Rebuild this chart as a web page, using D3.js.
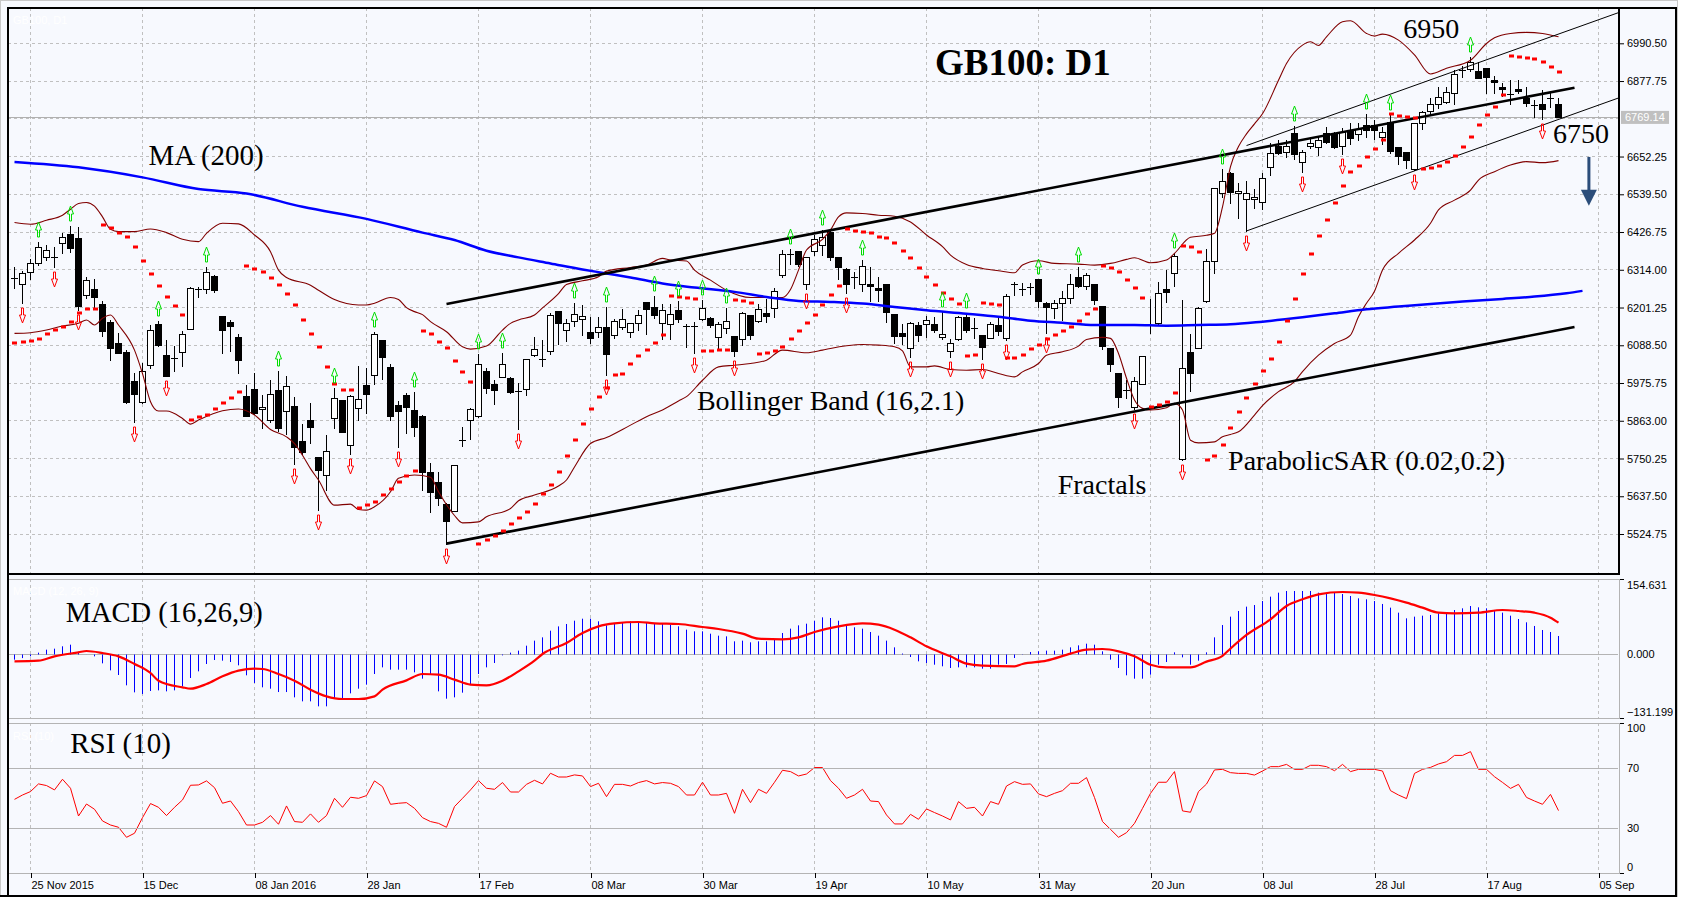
<!DOCTYPE html>
<html><head><meta charset="utf-8">
<script src="https://cdn.jsdelivr.net/npm/d3@7"></script>
<style>
html,body{margin:0;padding:0;background:#fff;}
svg{display:block;}
</style></head><body>
<svg id="c" width="1704" height="897"></svg>
<script>
// ---------------- DATA ----------------
const dateLabels = ["25 Nov 2015","15 Dec","08 Jan 2016","28 Jan","17 Feb","08 Mar","30 Mar","19 Apr","10 May","31 May","20 Jun","08 Jul","28 Jul","17 Aug","05 Sep"];
const dateTickBars = [0,14,28,42,56,70,84,98,112,126,140,154,168,182,196];
const priceLabels = [6990.50,6877.75,6652.25,6539.50,6426.75,6314.00,6201.25,6088.50,5975.75,5863.00,5750.25,5637.50,5524.75];
const priceGrid = [6990.50,6877.75,6765.00,6652.25,6539.50,6426.75,6314.00,6201.25,6088.50,5975.75,5863.00,5750.25,5637.50,5524.75];
const macdTicks = [154.631,0,-131.199];
const rsiTicks = [100,70,30,0];
const lastPrice = 6769.14;
const firstBar = -2;
// open, high, low, close  (bar index firstBar .. 191)
const ohlc = [
[6285,6323,6261,6288],[6273,6311,6215,6303],[6308,6345,6285,6333],[6333,6397,6327,6381],[6353,6387,6343,6372],
[6353,6383,6323,6351],[6393,6423,6363,6413],[6421,6445,6368,6380],[6408,6441,6194,6206],[6238,6291,6231,6283],
[6256,6286,6199,6233],[6211,6220,6116,6132],[6157,6164,6044,6081],[6094,6124,6064,6066],[6069,6074,5915,5920],
[5981,6007,5860,5942],[5918,6035,5917,6013],[6031,6149,6021,6133],[6152,6161,6087,6089],[6059,6104,5996,5997],
[6051,6087,6012,6049],[6067,6131,6027,6121],[6136,6263,6136,6261],[6257,6263,6233,6258],[6258,6321,6245,6306],
[6295,6298,6248,6255],[6175,6176,6064,6135],[6157,6164,6072,6147],[6112,6121,6006,6045],[5936,5971,5877,5878],
[5959,6007,5882,5885],[5897,5940,5840,5903],[5865,5984,5860,5942],[5954,6011,5833,5842],[5891,5998,5824,5968],
[5906,5933,5735,5785],[5802,5852,5763,5770],[5865,5916,5797,5845],[5754,5755,5596,5716],[5700,5820,5656,5774],
[5870,5962,5842,5930],[5925,5925,5830,5830],[5792,5939,5765,5936],[5900,6026,5865,5927],[5969,6021,5885,5944],
[6001,6129,5974,6121],[6104,6105,5989,6054],[6023,6032,5865,5878],[5910,5923,5785,5893],[5940,5945,5827,5905],
[5895,5950,5818,5843],[5878,5880,5656,5711],[5709,5737,5591,5651],[5679,5710,5611,5633],[5614,5618,5496,5564],
[5594,5732,5594,5732],[5804,5843,5788,5806],[5865,5900,5810,5898],[5877,6062,5875,6034],[6013,6022,5945,5962],
[5972,5984,5912,5954],[5994,6064,5994,6034],[5992,5994,5947,5950],[5949,5976,5839,5951],[5957,6048,5939,6046],
[6059,6112,6057,6076],[6045,6104,6027,6047],[6072,6184,6062,6179],[6191,6192,6092,6154],[6134,6166,6102,6154],
[6160,6216,6147,6181],[6167,6210,6119,6175],[6127,6172,6096,6111],[6127,6172,6114,6144],[6143,6204,6001,6061],
[6118,6166,6109,6162],[6143,6196,6137,6166],[6129,6156,6112,6154],[6156,6193,6134,6180],[6217,6217,6122,6196],
[6203,6236,6169,6180],[6156,6212,6106,6193],[6152,6212,6106,6182],[6194,6222,6159,6168],[6145,6152,6084,6147],
[6147,6159,6066,6145],[6166,6223,6164,6199],[6170,6174,6144,6149],[6112,6159,6076,6151],[6139,6199,6126,6160],
[6116,6116,6057,6072],[6106,6189,6089,6184],[6178,6179,6106,6118],[6161,6213,6159,6196],[6185,6226,6159,6175],
[6200,6261,6172,6252],[6297,6373,6291,6360],[6359,6376,6330,6361],[6370,6370,6325,6332],[6273,6351,6258,6351],
[6370,6418,6358,6405],[6388,6433,6358,6411],[6428,6430,6343,6353],[6353,6353,6285,6321],[6316,6318,6245,6273],
[6291,6308,6261,6293],[6273,6343,6251,6325],[6271,6321,6221,6265],[6261,6293,6221,6255],[6271,6271,6157,6187],
[6182,6182,6094,6116],[6124,6152,6092,6116],[6079,6159,6052,6156],[6148,6157,6102,6118],[6152,6177,6112,6163],
[6152,6172,6127,6134],[6112,6187,6107,6121],[6072,6107,6054,6094],[6106,6176,6104,6172],[6172,6186,6127,6134],
[6138,6169,6109,6140],[6118,6118,6046,6082],[6111,6157,6111,6151],[6148,6169,6119,6132],[6111,6241,6104,6237],
[6269,6278,6238,6271],[6256,6275,6240,6258],[6260,6275,6243,6262],[6286,6286,6203,6222],[6215,6218,6124,6203],
[6200,6223,6169,6216],[6216,6250,6164,6231],[6231,6301,6215,6271],[6291,6323,6263,6266],[6266,6303,6258,6298],
[6272,6273,6213,6224],[6206,6206,6076,6087],[6081,6081,6012,6034],[6007,6007,5905,5933],[5952,5984,5932,5954],
[5905,5994,5898,5982],[5973,6056,5972,6056],[6148,6227,6124,6150],[6156,6278,6149,6246],[6258,6313,6218,6248],
[6305,6363,6266,6355],[5750,6223,5747,6022],[6067,6121,5951,6006],[6079,6202,6079,6199],[6221,6376,6218,6341],
[6341,6559,6305,6559],[6542,6614,6532,6580],[6604,6607,6512,6547],[6542,6574,6470,6549],[6524,6579,6430,6544],
[6524,6554,6500,6530],[6517,6604,6497,6587],[6620,6692,6597,6662],[6685,6702,6660,6664],[6667,6702,6652,6685],
[6722,6742,6645,6660],[6635,6672,6607,6665],[6684,6712,6677,6694],[6680,6712,6657,6701],[6722,6739,6692,6697],
[6724,6727,6677,6680],[6685,6737,6660,6725],[6730,6753,6690,6707],[6720,6753,6702,6735],[6745,6778,6712,6732],
[6747,6761,6704,6732],[6710,6740,6690,6725],[6754,6776,6664,6670],[6680,6682,6629,6655],[6667,6667,6617,6642],
[6615,6752,6612,6752],[6752,6788,6734,6786],[6789,6826,6776,6809],[6808,6859,6796,6831],[6816,6859,6811,6844],
[6843,6911,6809,6899],[6910,6924,6891,6912],[6913,6949,6909,6936],[6908,6936,6886,6888],[6916,6916,6843,6891],
[6881,6893,6843,6876],[6859,6871,6834,6853],[6839,6881,6808,6838],[6854,6881,6841,6849],[6826,6861,6804,6813],
[6805,6821,6771,6804],[6808,6851,6764,6793],[6828,6841,6801,6823],[6808,6826,6769,6769.14]
];
const sar = [
6094,6097,6102,6108,6121,6133,6142,6159,6184,6196,
6196,6447,6440,6425,6411,6381,6340,6300,6267,6234,
6205,6178,5864,5873,5879,5897,5915,5930,5948,6324,
6315,6306,6288,6270,6243,6210,6163,6121,6082,6025,
5974,5954,5954,5601,5610,5619,5640,5658,5679,5697,
5712,6130,6121,6099,6079,6042,6009,5980,5496,5508,
5520,5533,5554,5574,5591,5613,5643,5670,5710,5759,
5805,5852,5897,5935,5962,6001,6004,6032,6055,6073,
6094,6118,6237,6233,6231,6226,6070,6070,6074,6074,
6223,6221,6216,6062,6064,6070,6082,6106,6132,6156,
6178,6208,6238,6267,6435,6431,6426,6423,6413,6408,
6393,6371,6348,6318,6291,6268,6245,6226,6211,6056,
6058,6216,6213,6210,6051,6051,6060,6076,6088,6106,
6118,6132,6144,6160,6181,6198,6325,6318,6306,6282,
6260,6231,5903,5910,5920,5945,6385,6383,6368,5746,
5758,5790,5840,5888,5930,5972,6012,6046,6097,6161,
6226,6301,6361,6415,6463,6512,6565,6607,6625,6652,
6675,6702,6780,6774,6771,6768,6614,6617,6624,6635,
6654,6680,6711,6746,6776,6801,6836,6953,6950,6947,
6943,6934,6920,6906];
const fractalUp = [1,5,16,22,31,38,43,48,56,59,68,72,78,81,84,87,95,99,104,114,117,126,131,143,149,158,167,170,180];
const fractalDown = [-1,3,6,13,17,33,36,40,46,52,61,72,83,88,97,102,110,115,119,122,127,138,144,152,159,164,173,189];
const bbUpper = [[-2,6455],[0,6450],[2,6462],[4,6477],[5,6495],[6,6512],[7,6515],[8,6504],[9,6472],[10,6435],[11,6428],[13,6428],[15,6436],[17,6425],[19,6405],[21,6398],[22,6423],[24,6453],[26,6451],[28,6418],[30,6368],[31,6313],[32,6291],[35,6268],[36,6253],[38,6225],[41,6209],[42,6209],[43,6214],[45,6231],[46,6225],[47,6201],[48,6189],[49,6180],[50,6159],[52,6129],[54,6084],[55,6077],[57,6086],[59,6134],[60,6154],[61,6164],[63,6179],[64,6200],[66,6243],[67,6270],[69,6281],[71,6293],[72,6310],[75,6321],[77,6328],[79,6348],[80,6343],[82,6340],[83,6313],[85,6283],[87,6253],[90,6231],[92,6231],[94,6231],[95,6255],[96,6313],[97,6373],[99,6405],[100,6433],[101,6472],[102,6484],[104,6482],[106,6477],[108,6474],[110,6457],[112,6418],[114,6383],[115,6358],[117,6330],[119,6318],[121,6311],[123,6305],[124,6328],[126,6341],[128,6333],[131,6331],[133,6328],[135,6333],[137,6345],[138,6350],[140,6335],[142,6343],[143,6363],[145,6411],[147,6417],[148,6423],[149,6502],[150,6622],[151,6682],[152,6720],[153,6750],[154,6780],[156,6880],[157,6930],[159,6985],[160,6995],[161,6984],[162,7010],[164,7055],[165,7058],[167,7020],[168,7012],[169,7018],[171,7000],[173,6956],[175,6899],[177,6916],[180,6940],[182,6990],[183,7007],[185,7020],[187,7023],[189,7020],[191,7010]];
const bbLower = [[-2,6124],[0,6126],[2,6134],[4,6146],[6,6154],[7,6164],[8,6149],[9,6169],[10,6179],[11,6149],[13,6074],[14,6004],[15,5920],[16,5892],[17,5892],[19,5870],[20,5853],[21,5865],[24,5893],[26,5898],[28,5880],[30,5837],[32,5815],[33,5795],[34,5760],[35,5720],[36,5686],[38,5611],[40,5614],[41,5598],[42,5596],[43,5606],[45,5651],[46,5691],[48,5701],[50,5694],[51,5651],[53,5580],[54,5558],[56,5561],[57,5576],[60,5601],[61,5624],[63,5641],[66,5668],[67,5686],[68,5725],[70,5795],[72,5813],[75,5850],[77,5875],[79,5895],[81,5922],[82,5935],[84,5984],[86,6024],[88,6029],[90,6034],[92,6044],[94,6074],[97,6066],[99,6074],[100,6079],[102,6087],[104,6091],[106,6089],[108,6084],[109,6072],[110,6024],[112,6024],[113,6027],[115,6016],[117,6014],[119,6016],[121,6004],[123,5994],[124,6009],[126,6034],[127,6059],[129,6069],[131,6086],[132,6106],[134,6112],[135,6109],[136,6064],[137,5990],[138,5925],[139,5900],[140,5895],[142,5902],[143,5915],[144,5895],[145,5805],[146,5797],[148,5800],[149,5815],[150,5822],[151,5830],[153,5880],[154,5908],[156,5950],[158,5980],[159,6010],[161,6059],[163,6094],[165,6119],[166,6174],[167,6214],[168,6250],[169,6313],[171,6363],[173,6403],[175,6453],[176,6493],[178,6522],[180,6552],[181,6582],[183,6607],[185,6627],[187,6637],[189,6634],[191,6640]];
const ma200 = [[-2,6636],[6,6620],[14,6590],[21,6555],[27,6542],[34,6502],[42,6466],[49,6425],[53,6403],[57,6371],[61,6351],[65,6333],[69,6315],[72,6303],[75,6291],[79,6273],[83,6261],[88,6248],[92,6233],[96,6221],[100,6218],[104,6213],[108,6203],[112,6193],[117,6183],[121,6174],[125,6162],[129,6156],[133,6149],[138,6149],[142,6147],[146,6149],[150,6151],[154,6159],[159,6172],[163,6184],[167,6196],[171,6204],[175,6212],[179,6219],[184,6227],[188,6234],[192,6244],[194,6251]];
const macdHist = [
-12.5,-9,-5,3,9.6,11.8,17,20.6,5,-1,
-5.2,-20.6,-36.1,-46.4,-69.2,-84.7,-88.4,-81.7,-80.3,-82.5,
-80.3,-71.4,-53,-38.3,-22.1,-13.3,-14.7,-17.7,-25,-47.1,
-64,-73.6,-76.6,-84,-84,-95.7,-104.6,-104.6,-115.6,-115.6,
-98.7,-98.7,-86.9,-76.6,-67.7,-44.2,-29.5,-34.6,-34.6,-34.6,
-40.5,-54.5,-45.6,-82.5,-98.7,-95.7,-85.4,-67.7,-44.2,-29.5,
-19.9,-3,3,7.4,18.4,29.5,36.8,51.5,61,66.3,
73.6,78,78,72.2,63.3,66.3,68.5,72.2,68.5,68.5,
66.3,66.3,64.8,61.1,53.8,50.1,50.1,44.9,40.5,39,
28,29.5,25.8,28,28,31.7,46.4,56,63.3,67,
73.6,81,79.5,73.6,64.8,59,56,48.6,40.5,29.5,
14.7,1,-6.6,-16.2,-19.9,-23.6,-27.2,-30.9,-29.5,-29.5,
-29.5,-32.4,-32.4,-23.6,-22.1,-8.8,-0.5,4.4,5.9,7.4,
7.4,9.6,14.7,19.1,22.8,20.6,5.9,-12.5,-30.9,-47.1,
-54.5,-54.5,-45.6,-23.6,-17.7,3.7,-7.4,-23.6,-14.7,3.7,
36.8,64,82.5,95,104.6,108.2,117,126.7,135.5,139.2,
139.2,139.2,139.2,135.5,132.5,135.5,132.5,128.1,123,120.8,
117,110.5,102.4,91.3,78.8,82.5,84.7,86.2,89.8,89.8,
97.2,100.9,106,103.1,100.9,95.7,91.3,84.7,77.3,70,
61.9,53,48.6,39.8];
const macdSignal = [[-2,-16.2],[1,-14.7],[3,-5.2],[6,3.7],[7,6.6],[9,2.2],[11,-5.2],[13,-22],[15,-42],[16,-59],[19,-73.6],[20,-76.6],[22,-66.3],[24,-49.3],[26,-36.8],[28,-32.4],[29,-33.1],[31,-44.2],[33,-58.9],[35,-78.8],[37,-93.5],[39,-99.4],[41,-99.4],[43,-93.5],[44,-78.8],[47,-58.2],[49,-44.2],[51,-45.6],[53,-56.7],[55,-67.7],[57,-69.2],[59,-58.9],[61,-38.3],[63,-14.7],[64,0],[67,24.3],[69,46.4],[71,61.1],[73,67.7],[76,70.7],[78,67.7],[81,66.3],[84,59.6],[86,55.2],[89,44.9],[91,33.9],[94,32.4],[96,36.8],[98,48.6],[101,61.1],[104,67.7],[106,64.8],[108,53.8],[110,36.8],[112,16.9],[115,-5.2],[117,-21.4],[119,-25.8],[123,-27.2],[124,-22.1],[127,-14.7],[130,0.7],[132,9.6],[134,11],[136,5.9],[138,-5.2],[140,-23.6],[142,-29.5],[145,-29.5],[147,-16.9],[149,-4],[150,12],[152,42],[155,76.6],[157,106],[159,120.8],[161,131.8],[164,137],[166,135.5],[168,130.3],[170,122.9],[172,113.4],[174,102.4],[176,91.3],[178,89.8],[181,91.3],[184,97.2],[186,95],[188,91.3],[190,80.3],[191,69.2]];
const rsi = [
49.3,52.2,54.5,59.6,58.5,55.6,62.7,56.7,38.2,46.2,
42.7,34.9,32.2,30.7,24,26.7,37.1,46.5,44,38.5,
44,48.9,58.7,58.9,61.6,57.1,46.7,48.2,41.1,32.2,
32.2,34,38.5,32.7,44.9,34.5,34,39.6,34,38.5,
50,44,50.7,50,51.8,61.6,57.8,46,46.7,47.1,
43.3,37.1,34.5,33.3,30.7,44.5,50,55.6,61.8,56.7,
56,60.5,54.2,54.2,59.3,62,59.6,66.7,64.2,64.2,
65.6,64.9,57.8,60,51.1,59.3,59.3,58.2,60.5,61.8,
59.6,60.5,60,57.8,52.2,52.2,60.7,52.2,52.2,53.3,
40,56,47.1,56,53.3,60.7,68.7,67.8,64.9,66.2,
70.5,70.5,61.8,56.7,50,52.2,56,48.2,47.8,38.9,
32.9,32.9,39.3,36,42.9,40.5,38.2,35.6,47.8,43.3,
44,38.2,47.8,46,58.2,61.1,59.3,59.6,52.9,51.1,
53.3,55.1,60,60,63.8,50.5,34.5,29.3,24,27.1,
33.3,43.3,53.3,60.7,60.7,67.8,41.6,40.7,54.5,59.5,
68.9,69.3,67.1,66.6,66.6,65.5,68.2,71.1,71.1,72.6,
69.3,69.3,72,72,71.1,68.4,72.6,67.8,69.3,69.3,
69.3,68.2,55.1,52.2,49.8,66.6,69.3,70.6,72.9,74.4,
78.6,78.6,81.1,69.3,69.3,64.4,60.6,56.6,59.3,50.6,
48.2,46,52.6,41.8];
const trendOuter = [[[52,6212],[193,6858]],[[52,5496],[193,6143]]];
const trendInner = [[[152,6685],[198.6,7083]],[[152,6430],[198.6,6828]]];
// annotations: [bar index, value, text]
const mainNotes = [[14.75,6627,"MA (200)"],[171.6,7006,"6950"],[190.3,6693,"6750"],[83.3,5895,"Bollinger Band (16,2.1)"],[149.7,5716,"ParabolicSAR (0.02,0.2)"],[128.4,5644,"Fractals"]];
const titleNote = [113.06,6896,"GB100: D1"];
const arrowNote = [194.8,6651,6505];

// ---------------- LAYOUT ----------------
const L=8, R=1619, mainTop=8, mainBot=574, macdTop=579, macdBot=718, rsiTop=723, rsiBot=873, outerR=1676, outerB=896;
const BG="#f7f9fe", GRID="#c0c0c0", PANEL="#b4b4b4";
const sans = "'Liberation Sans',Arial,sans-serif";
const serif = "'Liberation Serif','Times New Roman',serif";
const AXFS = 11;

const svg = d3.select('#c');
const x = d3.scaleLinear().domain([0,196]).range([30.5,1598.5]);
const y = d3.scaleLinear().domain([5524.75,6990.5]).range([534,43.3]);
const yM = d3.scaleLinear().domain([-131.199,154.631]).range([713.4,584]);
const yR = d3.scaleLinear().domain([0,100]).range([873.3,723.3]);
const px = v => Math.floor(v)+0.5;

svg.append('rect').attr('x',0).attr('y',0).attr('width',1678).attr('height',897).attr('fill',BG);
svg.append('rect').attr('x',0.5).attr('y',0.5).attr('width',1677).attr('height',896).attr('fill','none').attr('stroke','#c8c8c8');

const defs = svg.append('defs');
defs.append('clipPath').attr('id','cm').append('rect').attr('x',L+1).attr('y',mainTop+1).attr('width',R-L-2).attr('height',mainBot-mainTop-2);
defs.append('clipPath').attr('id','cd').append('rect').attr('x',L+1).attr('y',macdTop+1).attr('width',R-L-2).attr('height',macdBot-macdTop-2);
defs.append('clipPath').attr('id','cr').append('rect').attr('x',L+1).attr('y',rsiTop+1).attr('width',R-L-2).attr('height',rsiBot-rsiTop-2);

// vertical grid
[[mainTop,mainBot],[macdTop,macdBot],[rsiTop,rsiBot]].forEach(([a,b])=>{
  svg.append('g').selectAll('line').data(dateTickBars).join('line')
    .attr('x1',d=>px(x(d))).attr('x2',d=>px(x(d))).attr('y1',a).attr('y2',b)
    .attr('stroke',GRID).attr('stroke-dasharray','3,3');
});
// horizontal grid (main)
svg.append('g').selectAll('line').data(priceGrid).join('line')
  .attr('x1',L).attr('x2',R).attr('y1',d=>px(y(d))).attr('y2',d=>px(y(d)))
  .attr('stroke',GRID).attr('stroke-dasharray','3,3');

// watermark texts
svg.append('text').attr('x',13).attr('y',24).attr('fill','#fff').attr('font-family',sans).attr('font-size',AXFS).text('GB100, D1');
svg.append('text').attr('x',13).attr('y',595).attr('fill','#fff').attr('font-family',sans).attr('font-size',AXFS).text('MACD (12, 26, 9)');
svg.append('text').attr('x',13).attr('y',740).attr('fill','#fff').attr('font-family',sans).attr('font-size',AXFS).text('RSI (10)');

// current price line
svg.append('line').attr('x1',L).attr('x2',R).attr('y1',px(y(lastPrice))).attr('y2',px(y(lastPrice))).attr('stroke','#b0b0b0');

const main = svg.append('g').attr('clip-path','url(#cm)');

// candles
const bars = ohlc.map((d,k)=>({i:firstBar+k,o:d[0],h:d[1],l:d[2],c:d[3]}));
const gc = main.append('g');
bars.forEach(b=>{
  const cx = px(x(b.i));
  gc.append('line').attr('x1',cx).attr('x2',cx).attr('y1',Math.round(y(b.h))).attr('y2',Math.round(y(b.l))+1).attr('stroke','#000');
  const t = Math.round(y(Math.max(b.o,b.c))), bt = Math.round(y(Math.min(b.o,b.c)));
  if (bt - t < 2) {
    gc.append('line').attr('x1',cx-3.5).attr('x2',cx+3.5).attr('y1',t+0.5).attr('y2',t+0.5).attr('stroke','#000');
  } else {
    gc.append('rect').attr('x',cx-3).attr('y',t+0.5).attr('width',6).attr('height',bt-t)
      .attr('fill', b.c>=b.o ? '#fff' : '#000').attr('stroke','#000');
  }
});

// bollinger
const lineI = d3.line().x(d=>x(d[0])).y(d=>y(d[1])).curve(d3.curveMonotoneX);
[bbUpper,bbLower].forEach(s=>main.append('path').attr('d',lineI(s)).attr('fill','none').attr('stroke','#800000').attr('stroke-width',1.1));
// MA200
main.append('path').attr('d',lineI(ma200)).attr('fill','none').attr('stroke','#0000ff').attr('stroke-width',2.5);
// trend lines
const lineS = d3.line().x(d=>x(d[0])).y(d=>y(d[1]));
trendOuter.forEach(s=>main.append('path').attr('d',lineS(s)).attr('stroke','#000').attr('stroke-width',2.6).attr('fill','none'));
trendInner.forEach(s=>main.append('path').attr('d',lineS(s)).attr('stroke','#000').attr('stroke-width',1).attr('fill','none'));
// SAR
main.append('g').selectAll('rect').data(sar).join('rect')
  .attr('x',(d,k)=>Math.round(x(firstBar+k))-2).attr('y',d=>Math.round(y(d))-1.5)
  .attr('width',5).attr('height',3).attr('fill','#ff0000');
// fractals
const hiOf = i => bars[i-firstBar].h, loOf = i => bars[i-firstBar].l;
main.append('g').selectAll('path').data(fractalUp).join('path')
  .attr('d',i=>{const cx=px(x(i)), t=Math.round(y(hiOf(i)))-20; return `M${cx},${t} L${cx+3},${t+8} L${cx+1},${t+8} L${cx+1},${t+15} L${cx-1},${t+15} L${cx-1},${t+8} L${cx-3},${t+8} Z`;})
  .attr('fill','none').attr('stroke','#00dd00').attr('stroke-width',1);
main.append('g').selectAll('path').data(fractalDown).join('path')
  .attr('d',i=>{const cx=px(x(i)), b=Math.round(y(loOf(i)))+20; return `M${cx},${b} L${cx+3},${b-8} L${cx+1},${b-8} L${cx+1},${b-15} L${cx-1},${b-15} L${cx-1},${b-8} L${cx-3},${b-8} Z`;})
  .attr('fill','none').attr('stroke','#ff0000').attr('stroke-width',1);

// annotations
main.append('g').selectAll('text').data(mainNotes).join('text')
  .attr('x',d=>x(d[0])).attr('y',d=>y(d[1])).text(d=>d[2])
  .attr('font-family',serif).attr('font-size',(d,k)=>k===0?29:28).attr('fill','#000');
main.append('text').attr('x',x(titleNote[0])).attr('y',y(titleNote[1])).text(titleNote[2])
  .attr('font-family',serif).attr('font-size',37).attr('font-weight','bold').attr('fill','#000');
// arrow
{
  const ax = x(arrowNote[0]), a1 = y(arrowNote[1]), a2 = y(arrowNote[2]);
  main.append('rect').attr('x',ax-1.5).attr('y',a1).attr('width',3).attr('height',a2-a1-15).attr('fill','#2b4d7a');
  main.append('path').attr('d',`M${ax-8},${a2-16} L${ax+8},${a2-16} L${ax},${a2} Z`).attr('fill','#2b4d7a');
}

// ---------- MACD ----------
const gm = svg.append('g').attr('clip-path','url(#cd)');
gm.append('line').attr('x1',L).attr('x2',R).attr('y1',px(yM(0))).attr('y2',px(yM(0))).attr('stroke',PANEL);
gm.append('g').selectAll('line').data(macdHist).join('line')
  .attr('x1',(d,k)=>px(x(firstBar+k))).attr('x2',(d,k)=>px(x(firstBar+k)))
  .attr('y1',px(yM(0))).attr('y2',d=>yM(d)).attr('stroke','#0000ff').attr('stroke-width',1);
gm.append('path').attr('d',d3.line().x(d=>x(d[0])).y(d=>yM(d[1])).curve(d3.curveMonotoneX)(macdSignal))
  .attr('fill','none').attr('stroke','#ff0000').attr('stroke-width',2.2);
svg.append('text').attr('x',x(4.4)).attr('y',yM(71.3)).text('MACD (16,26,9)').attr('font-family',serif).attr('font-size',28.5);

// ---------- RSI ----------
const gr = svg.append('g').attr('clip-path','url(#cr)');
gr.append('path').attr('d',d3.line().x((d,k)=>x(firstBar+k)).y(d=>yR(d))(rsi)).attr('fill','none').attr('stroke','#ff0000').attr('stroke-width',1);
[70,30].forEach(v=>gr.append('line').attr('x1',L).attr('x2',R).attr('y1',px(yR(v))).attr('y2',px(yR(v))).attr('stroke',PANEL));
svg.append('text').attr('x',x(4.96)).attr('y',yR(80)).text('RSI (10)').attr('font-family',serif).attr('font-size',29);

// panel borders
[[macdTop,macdBot],[rsiTop,rsiBot]].forEach(([a,b])=>{
  svg.append('rect').attr('x',L+0.5).attr('y',a+0.5).attr('width',R-L).attr('height',b-a).attr('fill','none').attr('stroke',PANEL);
});
// black frame lines
const blk = (x1,y1,x2,y2,w)=>svg.append('line').attr('x1',x1).attr('y1',y1).attr('x2',x2).attr('y2',y2).attr('stroke','#000').attr('stroke-width',w);
blk(L,mainTop,outerR+1,mainTop,2);
blk(L,mainTop-1,L,outerB+1,2);
blk(R,mainTop,R,mainBot+1,2);
blk(L,mainBot,R+1,mainBot,2);
blk(outerR,mainTop-1,outerR,outerB+1,2);
blk(0,outerB,outerR+1,outerB,2);

// ---------- AXES ----------
const axFont = g=>g.selectAll('text').attr('font-family',sans).attr('font-size',AXFS).attr('fill','#000');
const ay = svg.append('g').attr('transform',`translate(${R+1},0)`)
  .call(d3.axisRight(y).tickValues(priceLabels).tickFormat(d3.format('.2f')).tickSize(4).tickPadding(3));
ay.select('.domain').remove(); ay.call(axFont);
// last price tag
{
  const yy = y(lastPrice);
  svg.append('rect').attr('x',R+2).attr('y',yy-6.5).attr('width',48).attr('height',13).attr('fill','#c0c0c0');
  svg.append('text').attr('x',R+6).attr('y',yy+4).text(d3.format('.2f')(lastPrice)).attr('fill','#fff').attr('font-family',sans).attr('font-size',AXFS);
}
// MACD axis
{
  const g = svg.append('g').attr('transform',`translate(${R+1},0)`);
  [macdTop,macdBot].forEach(v=>g.append('line').attr('x1',0).attr('x2',4).attr('y1',v+0.5).attr('y2',v+0.5).attr('stroke','#000'));
  g.selectAll('text').data(macdTicks).join('text')
    .attr('x',7).attr('y',d=>Math.min(Math.max(yM(d),macdTop+6),macdBot-6)).attr('dy','0.35em')
    .text(d3.format('.3f')).call(s=>s.attr('font-family',sans).attr('font-size',AXFS));
}
// RSI axis
{
  const g = svg.append('g').attr('transform',`translate(${R+1},0)`);
  [rsiTop,rsiBot].forEach(v=>g.append('line').attr('x1',0).attr('x2',4).attr('y1',v+0.5).attr('y2',v+0.5).attr('stroke','#000'));
  g.selectAll('text').data(rsiTicks).join('text')
    .attr('x',7).attr('y',d=>Math.min(Math.max(yR(d),rsiTop+5.5),rsiBot-5.5)).attr('dy','0.35em')
    .text(d=>d).call(s=>s.attr('font-family',sans).attr('font-size',AXFS));
}
// date axis
const ax = svg.append('g').attr('transform',`translate(0.5,${rsiBot})`)
  .call(d3.axisBottom(x).tickValues(dateTickBars).tickFormat((d,k)=>dateLabels[k]).tickSize(5).tickPadding(3));
ax.select('.domain').remove();
ax.selectAll('text').attr('text-anchor','start').attr('x',0);
ax.call(axFont);
</script>
</body></html>
